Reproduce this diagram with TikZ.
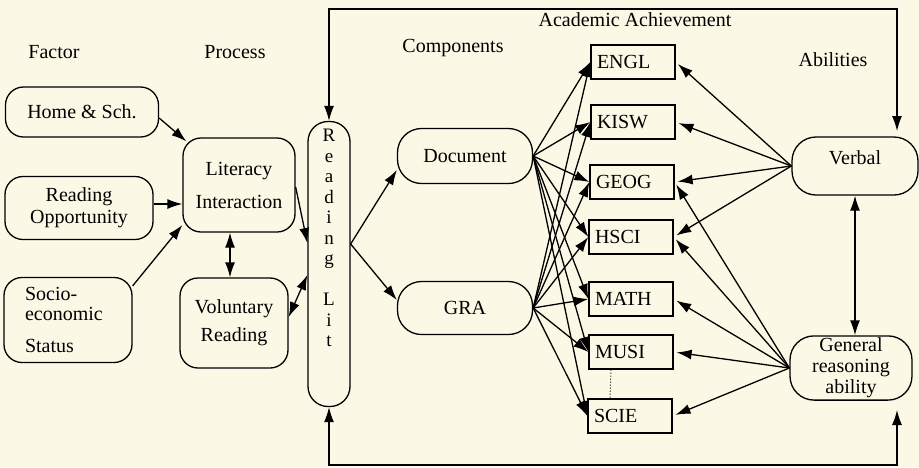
\documentclass[tikz,border=0pt]{standalone}
\usepackage{fontspec}
\setmainfont{Liberation Serif}
\usetikzlibrary{arrows.meta}

\definecolor{paper}{HTML}{FBF9E6}

\tikzset{
    every node/.style={font=\fontsize{20}{22}\selectfont},
    roundbox/.style={draw, line width=1.3pt, rounded corners=18pt, align=center, inner sep=2pt},
    subject/.style={draw, line width=1.3pt, minimum height=34pt, text width=72pt, inner xsep=6pt, align=left},
    link/.style={line width=1.3pt, -{Latex[length=15pt,width=10pt]}},
    twolink/.style={line width=1.3pt, {Latex[length=15pt,width=10pt]}-{Latex[length=15pt,width=10pt]}}
}

\begin{document}
\begin{tikzpicture}[x=1pt, y=-1pt]
            % Paper
            \path[use as bounding box, fill=paper] (0,0) rectangle (919,467);

            % Column titles
            \node (factor) at (54,52) {Factor};
            \node (process) at (235,52) {Process};
            \node (components) at (453,48) {Components};
            \node (achieve) at (635,20) {Academic Achievement};
            \node (abilities) at (833,60) {Abilities};

            % Factors
            \node[roundbox, minimum width=153pt, minimum height=50pt] (home) at (82,112) {Home \& Sch.};
            \node[roundbox, minimum width=148pt, minimum height=63pt] (readopp) at (79,208) {Reading\\Opportunity};
            \node[roundbox, minimum width=128pt, minimum height=85pt, text width=86pt, align=left]
                (socio) at (68,320) {Socio-\\[-2pt]economic\\[10pt]Status};

            % Processes
            \node[roundbox, minimum width=112pt, minimum height=94pt] (litint) at (239,185) {Literacy\\[11pt]Interaction};
            \node[roundbox, minimum width=108pt, minimum height=90pt] (volread) at (234,323) {Voluntary\\[6pt]Reading};

            % Reading Lit, letters stacked
            \node[draw, line width=1.3pt, rounded corners=20pt, minimum width=42pt, minimum height=285pt] (lit) at (329,264) {};
            \node[anchor=north, inner sep=0pt, align=center, font=\fontsize{19}{20.5}\selectfont]
                (littext) at (329,129) {R\\e\\a\\d\\i\\n\\g\\[20.5pt]L\\i\\t};

            % Components
            \node[roundbox, rounded corners=24pt, minimum width=135pt, minimum height=55pt] (doc) at (465,156) {Document};
            \node[roundbox, rounded corners=24pt, minimum width=135pt, minimum height=53pt] (gra) at (465,308) {GRA};

            % Subjects
            \node[subject] (engl) at (633,62) {ENGL};
            \node[subject] (kisw) at (633,122) {KISW};
            \node[subject] (geog) at (632,182) {GEOG};
            \node[subject] (hsci) at (631,237) {HSCI};
            \node[subject] (math) at (631,299) {MATH};
            \node[subject] (musi) at (631,352) {MUSI};
            \node[subject] (scie) at (630,416) {SCIE};

            % Abilities
            \node[roundbox, rounded corners=24pt, minimum width=126pt, minimum height=58pt, text depth=16pt] (verbal) at (855,166) {Verbal};
            \node[roundbox, rounded corners=24pt, minimum width=122pt, minimum height=63pt] (genreas) at (851,368) {General\\[-1pt]reasoning\\[-1pt]ability};

            % Factors into literacy interaction
            \draw[link] ([yshift=-6pt]home.east) -- ([xshift=4pt,yshift=-4pt]litint.north west);
            \draw[link] ([yshift=4pt]readopp.east) -- ([yshift=4pt]readopp.east -| litint.west);
            \draw[link] ([yshift=-9pt]socio.north east) -- ([yshift=-40pt]litint.west);

            % Between the two processes
            \draw[twolink] ([xshift=-9pt]litint.south) -- ([xshift=-4pt]volread.north);

            % Processes into reading lit
            \draw[link] ([yshift=-2pt]litint.east) -- ([yshift=21pt]lit.west);
            \draw[twolink] ([yshift=6pt]volread.east) -- ([yshift=-11pt]lit.west);

            % Reading lit into components
            \coordinate (split) at ([yshift=20pt]lit.east);
            \draw[link] (split) -- ([yshift=-14pt]doc.west);
            \draw[link] (split) -- ([yshift=8pt]gra.west);

            % Components into subjects
            \foreach \s in {engl,kisw,geog,hsci,math,musi,scie} {
                \draw[link] (doc.east) -- (\s.west);
                \draw[link] (gra.east) -- (\s.west);
            }

            % Abilities into subjects
            \foreach \s in {engl,kisw,geog,hsci}
                \draw[link, shorten >=3pt] (verbal.west) -- (\s.east);
            \foreach \s in {geog,hsci,math,musi,scie}
                \draw[link, shorten >=3pt] (genreas.west) -- (\s.east);

            % Between the two abilities
            \draw[twolink] (verbal.south) -- (verbal.south |- genreas.north);

            % More subjects
            \draw[dotted, line width=1pt] ([xshift=-20pt]musi.south) -- ([xshift=-20pt]scie.north);

            % Feedback loops round the achievement block
            \coordinate (topR) at (897,9);
            \coordinate (verbalin) at (897,131);
            \draw[twolink] (lit.north) |- (topR) -- (verbalin);

            \coordinate (botR) at (897,465);
            \coordinate (genin) at (897,410);
            \draw[twolink] (lit.south) |- (botR) -- (genin);
\end{tikzpicture}
\end{document}
